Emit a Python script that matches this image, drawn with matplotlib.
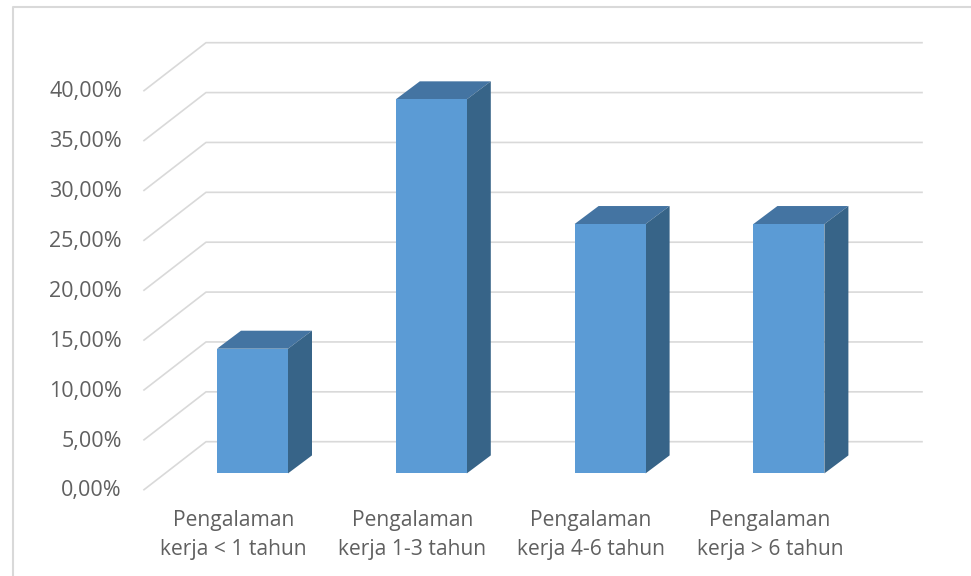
import matplotlib.pyplot as plt
from matplotlib.patches import Polygon

categories = [
    "Pengalaman\nkerja < 1 tahun",
    "Pengalaman\nkerja 1-3 tahun",
    "Pengalaman\nkerja 4-6 tahun",
    "Pengalaman\nkerja > 6 tahun",
]
values = [12.5, 37.5, 25.0, 25.0]
y_ticks = [0, 5, 10, 15, 20, 25, 30, 35, 40]
y_labels = ["0,00%", "5,00%", "10,00%", "15,00%", "20,00%", "25,00%", "30,00%", "35,00%", "40,00%"]

W, H = 971, 576
# pixel scale of the chart
X0, X_STEP = 252.5, 178.8
Y0, Y_STEP = 473.4, 9.975


def dx(px):
    return px / X_STEP


def dy(px):
    return px / Y_STEP


plt.rcParams["font.family"] = ["Open Sans", "DejaVu Sans"]
fig = plt.figure(figsize=(W / 100, H / 100), dpi=100)
ax = fig.add_axes([0, 0, 1, 1])
ax.set_xlim(-X0 / X_STEP, (W - X0) / X_STEP)
ax.set_ylim((Y0 - H) / Y_STEP, Y0 / Y_STEP)
ax.axis("off")

# chart border
ax.plot([dx(12.5 - X0), dx(12.5 - X0), dx(W - X0)],
        [dy(Y0 - H), dy(Y0 - 7), dy(Y0 - 7)], color="#d9d9d9", lw=1.5, zorder=1)

# gridlines: floor/side wall diagonal, then back wall
grid_x = [dx(144 - X0), dx(206 - X0), dx(922 - X0)]
for t, label in zip(y_ticks, y_labels):
    yf = t + dy(Y0 - 489.7)
    yb = t + dy(Y0 - 441.7)
    ax.plot(grid_x, [yf, yb, yb], color="#d9d9d9", lw=1.2, zorder=2)
    ax.text(dx(122 - X0), yf - dy(1.2), label, ha="right", va="center",
            fontsize=15.5, color="#606060")

# bars
half = dx(35.5)
ox, oy = dx(24), dy(18)
for i, (v, cat) in enumerate(zip(values, categories)):
    l, r = i - half, i + half
    ax.add_patch(Polygon([(l, v), (r, v), (r + ox, v + oy), (l + ox, v + oy)],
                         fc="#4474a2", ec="none", zorder=3))
    ax.add_patch(Polygon([(r, 0), (r + ox, oy), (r + ox, v + oy), (r, v)],
                         fc="#376488", ec="none", zorder=3))
    ax.add_patch(Polygon([(l, 0), (r, 0), (r, v), (l, v)],
                         fc="#5b9bd5", ec="none", zorder=4))
    ax.text(i - dx(19), dy(Y0 - 535), cat, ha="center", va="center",
            fontsize=15.1, color="#606060", linespacing=1.5)

fig.savefig("out.png", dpi=100)
